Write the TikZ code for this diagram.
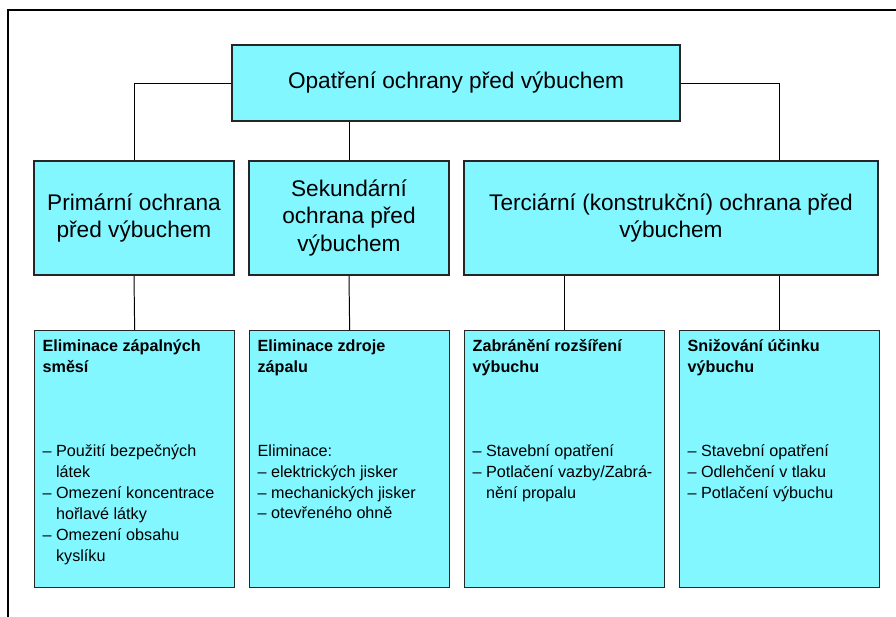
\documentclass[tikz,border=0pt]{standalone}
\usepackage{fontspec}
\setmainfont{Liberation Sans}

\definecolor{boxcyan}{RGB}{130,247,255}
\newcommand{\bigtext}{\fontsize{16.1}{19.5}\selectfont}
\newcommand{\smalltext}{\fontsize{11.5}{14.9}\selectfont}
\newcommand{\hangsp}{\hphantom{–~}}
\newcommand{\measure}[1]{\parbox[t][5.975cm][t]{4.6cm}{\raggedright #1}}

\tikzset{
    box/.style={draw=black!85, line width=0.9pt, fill=boxcyan},
    mainbox/.style={box, minimum width=11.2cm, minimum height=1.9cm, font=\bigtext},
    levelbox/.style={box, minimum height=2.85cm, align=center, font=\bigtext},
    measbox/.style={box, anchor=north west, inner xsep=0.2cm, inner ysep=0.225cm, minimum width=5cm, font=\smalltext},
    link/.style={line width=0.7pt}
}

\begin{document}
\begin{tikzpicture}[x=0.025cm, y=-0.025cm]
        \useasboundingbox (0, 0) rectangle (896, 617);
        \draw[line width=0.8pt] (8, 617) -- (8, 10) -- (896, 10);

        % top
        \node[mainbox] (opatreni) at (456, 83) {Opatření ochrany před výbuchem};

        % second row
        \node[levelbox, minimum width=5cm] (primarni) at (134, 218) {Primární ochrana\\před výbuchem};
        \node[levelbox, minimum width=5cm] (sekundarni) at (349, 218) {Sekundární\\ochrana před\\výbuchem};
        \node[levelbox, minimum width=10.35cm] (terciarni) at (671, 218) {Terciární (konstrukční) ochrana před\\výbuchem};

        % third row
        \node[measbox] (smesi) at (34, 330) {\measure{\textbf{Eliminace zápalných\\směsí}\\[3\baselineskip]
            – Použití bezpečných\\\hangsp látek\\– Omezení koncentrace\\\hangsp hořlavé látky\\– Omezení obsahu\\\hangsp kyslíku}};
        \node[measbox] (zdroje) at (249, 330) {\measure{\textbf{Eliminace zdroje\\zápalu}\\[3\baselineskip]
            Eliminace:\\– elektrických jisker\\– mechanických jisker\\– otevřeného ohně}};
        \node[measbox] (rozsireni) at (464, 330) {\measure{\textbf{Zabránění rozšíření\\výbuchu}\\[3\baselineskip]
            – Stavební opatření\\– Potlačení vazby/Zabrá-\\\hangsp nění propalu}};
        \node[measbox] (ucinku) at (679, 330) {\measure{\textbf{Snižování účinku\\výbuchu}\\[3\baselineskip]
            – Stavební opatření\\– Odlehčení v tlaku\\– Potlačení výbuchu}};

        % connectors
        \draw[link] (opatreni.west) -| (primarni.north);
        \draw[link] (opatreni.south -| sekundarni.north) -- (sekundarni.north);
        \draw[link] (opatreni.east) -| (ucinku.north |- terciarni.north);
        \draw[link] (primarni.south) -- (smesi.north);
        \draw[link] (sekundarni.south) -- (zdroje.north);
        \draw[link] (terciarni.south -| rozsireni.north) -- (rozsireni.north);
        \draw[link] (terciarni.south -| ucinku.north) -- (ucinku.north);
\end{tikzpicture}
\end{document}
